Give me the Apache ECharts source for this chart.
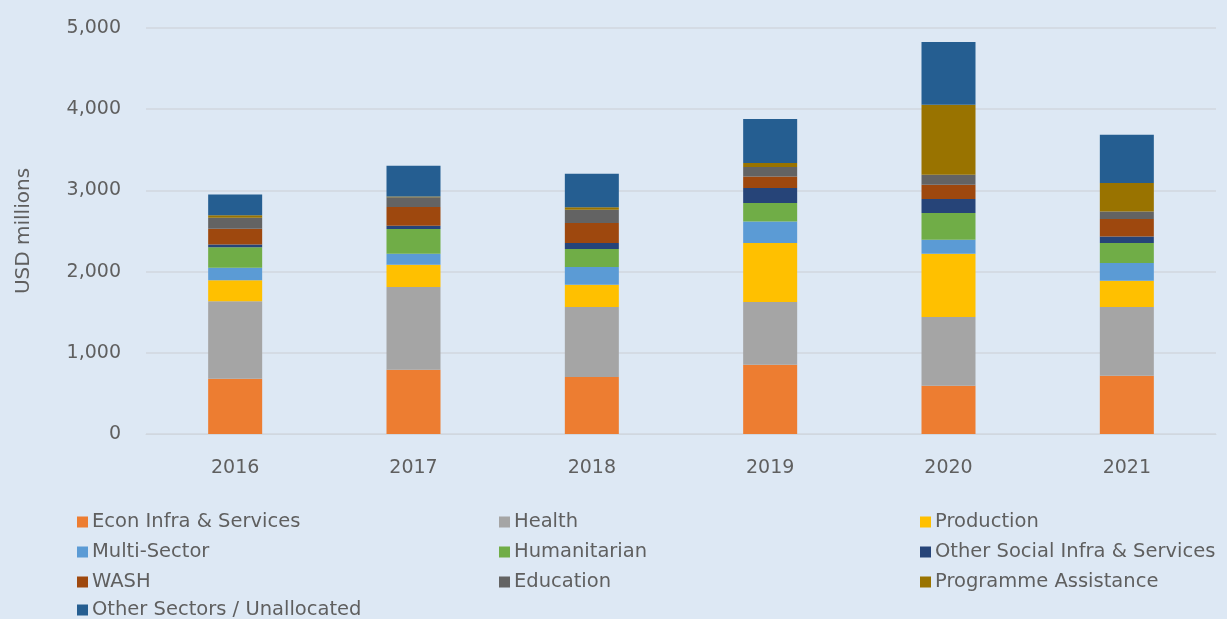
<!DOCTYPE html>
<html>
<head>
<meta charset="utf-8">
<script src="https://cdn.jsdelivr.net/npm/echarts@6/dist/echarts.min.js"></script>
<style>
  html, body { margin: 0; padding: 0; background: #dde8f4; }
  #chart { width: 1227px; height: 619px; }
</style>
</head>
<body>
<div id="chart"></div>
<script>
// Years on the category axis
const years = ['2016', '2017', '2018', '2019', '2020', '2021'];

// Sector totals, USD millions (stacked bottom to top)
const econInfra     = [680, 792, 702, 853, 595, 718];
const health        = [956, 1018, 862, 773, 846, 846];
const production    = [259, 275, 275, 726, 779, 324];
const multiSector   = [152, 135, 218, 266, 173, 218];
const humanitarian  = [254, 305, 221, 227, 329, 246];
const otherSocial   = [33, 40, 74, 185, 172, 81];
const wash          = [194, 231, 247, 142, 176, 215];
const education     = [135, 120, 163, 116, 123, 93];
const programme     = [32, 10, 29, 49, 862, 350];
const otherSectors  = [255, 379, 415, 542, 773, 595];

// Y-axis ticks
const yTicks = [0, 1000, 2000, 3000, 4000, 5000];

const seriesDefs = [
  { name: 'Econ Infra & Services', data: econInfra, color: '#ed7d31' },
  { name: 'Health', data: health, color: '#a5a5a5' },
  { name: 'Production', data: production, color: '#ffc000' },
  { name: 'Multi-Sector', data: multiSector, color: '#5b9bd5' },
  { name: 'Humanitarian', data: humanitarian, color: '#70ad47' },
  { name: 'Other Social Infra & Services', data: otherSocial, color: '#264478' },
  { name: 'WASH', data: wash, color: '#9e480e' },
  { name: 'Education', data: education, color: '#636363' },
  { name: 'Programme Assistance', data: programme, color: '#997300' },
  { name: 'Other Sectors / Unallocated', data: otherSectors, color: '#255e91' }
];

const textColor = '#5f5f5f';
const fontFamily = '"DejaVu Sans", "Open Sans", sans-serif';

// One legend block per column; rows are 30px apart
function legendBlock(left, top, names) {
  return {
    orient: 'vertical',
    left: left,
    top: top,
    itemWidth: 11,
    itemHeight: 11,
    itemGap: 8,
    icon: 'rect',
    selectedMode: false,
    data: names,
    textStyle: { color: textColor, fontSize: 19.5, fontFamily: fontFamily, lineHeight: 22, padding: [0, 0, 0, -1] }
  };
}

const chart = echarts.init(document.getElementById('chart'), null, { renderer: 'canvas' });
chart.setOption({
  backgroundColor: '#dde8f4',
  animation: false,
  grid: { left: 146, right: 11, top: 28, bottom: 185 },
  legend: [
    legendBlock(72, 506, ['Econ Infra & Services', 'Multi-Sector', 'WASH']),
    legendBlock(72, 594, ['Other Sectors / Unallocated']),
    legendBlock(494, 506, ['Health', 'Humanitarian', 'Education']),
    legendBlock(915, 506, ['Production', 'Other Social Infra & Services', 'Programme Assistance'])
  ],
  xAxis: {
    type: 'category',
    data: years,
    axisLine: { show: true, lineStyle: { color: '#d0d7df', width: 1 } },
    axisTick: { show: false },
    axisLabel: { color: textColor, fontSize: 19, fontFamily: fontFamily, margin: 25 }
  },
  yAxis: {
    type: 'value',
    min: yTicks[0],
    max: yTicks[yTicks.length - 1],
    interval: 1000,
    name: 'USD millions',
    nameLocation: 'middle',
    nameGap: 112,
    nameTextStyle: { color: textColor, fontSize: 20, fontFamily: fontFamily },
    axisLine: { show: false },
    axisTick: { show: false },
    splitLine: { lineStyle: { color: '#d0d7df', width: 1.5 } },
    axisLabel: {
      color: textColor,
      fontSize: 19,
      fontFamily: fontFamily,
      margin: 25,
      formatter: v => v.toLocaleString('en-US')
    }
  },
  series: seriesDefs.map(s => ({
    name: s.name,
    type: 'bar',
    stack: 'total',
    barWidth: 54,
    data: s.data,
    itemStyle: { color: s.color }
  }))
});
</script>
</body>
</html>
